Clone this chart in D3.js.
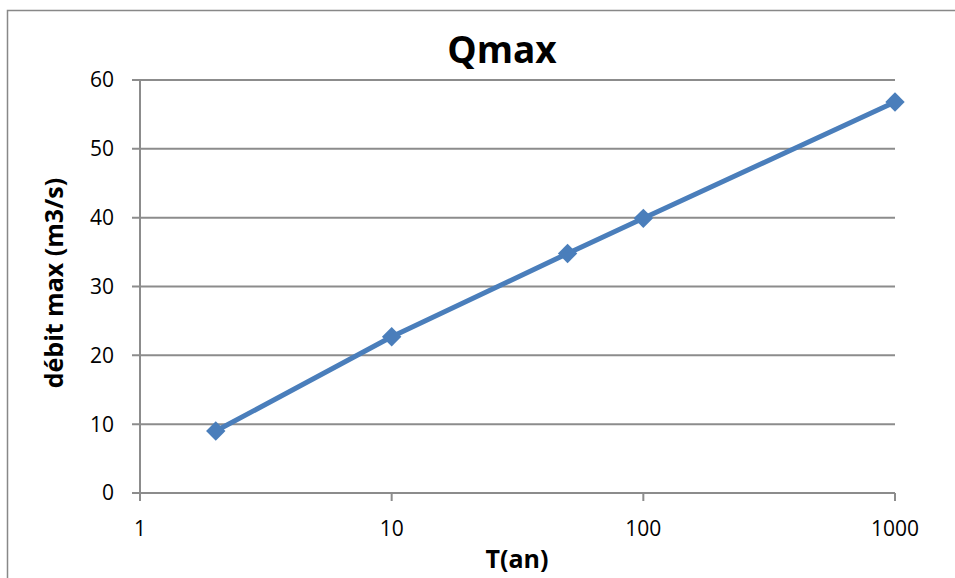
<!DOCTYPE html>
<html><head><meta charset="utf-8">
<script src="https://cdn.jsdelivr.net/npm/d3@7"></script>
<style>body{margin:0;background:#fff;}svg{display:block;font-family:"Open Sans","Liberation Sans",sans-serif;}</style>
</head><body>
<svg id="c" width="955" height="578"></svg>
<script>
const periods = [2, 10, 50, 100, 1000];
const qmax = [9.0, 22.7, 34.8, 39.9, 56.8];
const xTicks = [1, 10, 100, 1000];
const yTicks = [0, 10, 20, 30, 40, 50, 60];
const title = "Qmax";
const xTitle = "T(an)";
const yTitle = "débit max (m3/s)";

const svg = d3.select("#c");
svg.append("rect").attr("x", 7.5).attr("y", 10.5).attr("width", 960).attr("height", 600)
  .attr("fill", "#fff").attr("stroke", "#888").attr("stroke-width", 1.5);

const x = d3.scaleLog().domain([1, 1000]).range([140, 895]);
const y = d3.scaleLinear().domain([0, 60]).range([493, 80]);
const grid = "#8c8c8c";

svg.append("g").selectAll("line").data(yTicks).join("line")
  .attr("x1", 132).attr("x2", 895).attr("y1", d => y(d)).attr("y2", d => y(d))
  .attr("stroke", grid).attr("stroke-width", 2);
svg.append("line").attr("x1", x(1)).attr("x2", x(1)).attr("y1", y(60)).attr("y2", y(0) + 8)
  .attr("stroke", grid).attr("stroke-width", 2);
svg.append("g").selectAll("line").data(xTicks).join("line")
  .attr("x1", d => x(d)).attr("x2", d => x(d)).attr("y1", y(0)).attr("y2", y(0) + 8)
  .attr("stroke", grid).attr("stroke-width", 2);

svg.append("g").selectAll("text").data(yTicks).join("text")
  .attr("x", 114).attr("y", d => y(d)).attr("dy", "0.35em").attr("text-anchor", "end")
  .attr("font-size", 21).attr("fill", "#000").text(d => d);
svg.append("g").selectAll("text").data(xTicks).join("text")
  .attr("x", d => x(d)).attr("y", 536).attr("text-anchor", "middle")
  .attr("font-size", 21).attr("fill", "#000").text(d => d);

svg.append("text").attr("x", 502).attr("y", 63).attr("text-anchor", "middle")
  .attr("font-size", 37).attr("font-weight", "bold").text(title);
svg.append("text").attr("x", 517).attr("y", 568).attr("text-anchor", "middle")
  .attr("font-size", 25).attr("font-weight", "bold").text(xTitle);
svg.append("text").attr("transform", "translate(63,283) rotate(-90)").attr("text-anchor", "middle")
  .attr("font-size", 25).attr("font-weight", "bold").text(yTitle);

const data = periods.map((p, i) => ({p, q: qmax[i]}));
const col = "#4a7ebb";
svg.append("path").datum(data)
  .attr("d", d3.line().x(d => x(d.p)).y(d => y(d.q)))
  .attr("fill", "none").attr("stroke", col).attr("stroke-width", 5).attr("stroke-linejoin", "round");
svg.append("g").selectAll("path").data(data).join("path")
  .attr("d", d3.symbol().type(d3.symbolDiamond2).size(240))
  .attr("transform", d => `translate(${x(d.p)},${y(d.q)})`)
  .attr("fill", col);
</script>
</body></html>
